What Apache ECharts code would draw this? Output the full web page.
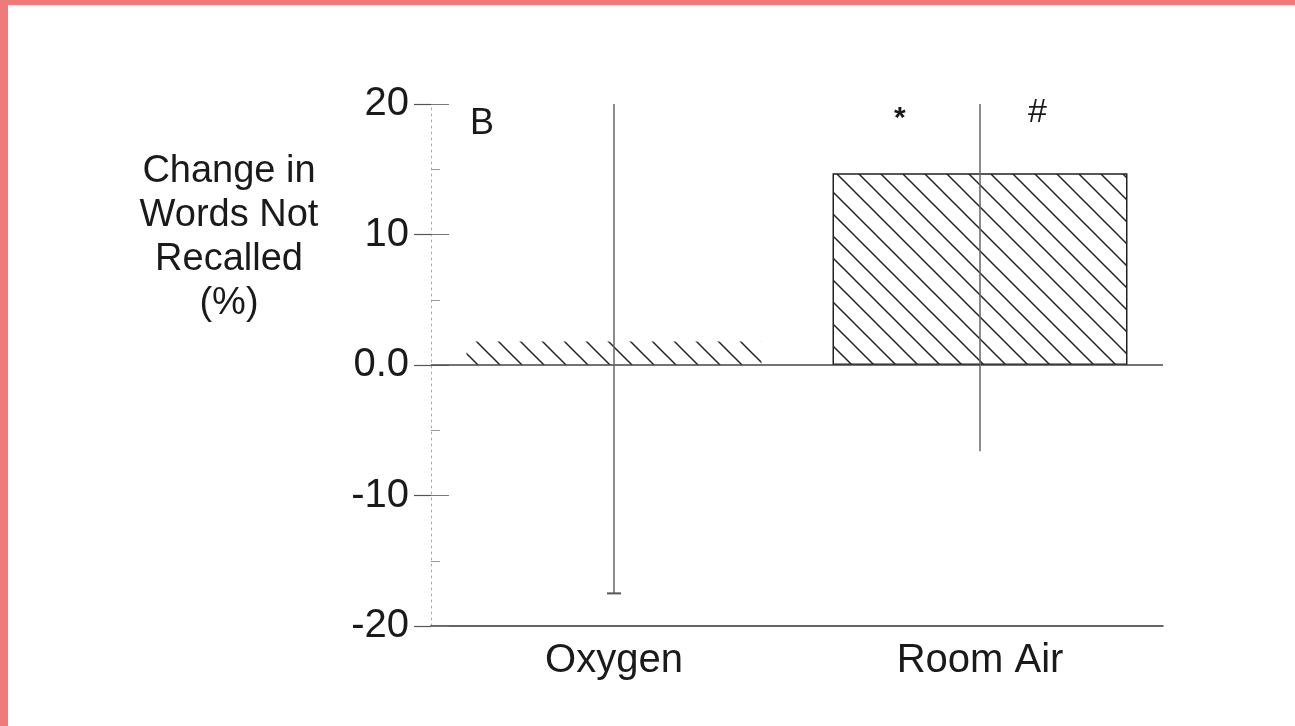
<!DOCTYPE html>
<html><head><meta charset="utf-8">
<script src="https://cdn.jsdelivr.net/npm/echarts@6/dist/echarts.min.js"></script>
<style>
html,body{margin:0;padding:0;background:#fff;}
#wrap{position:absolute;left:0;top:0;width:1295px;height:726px;background:#ee7a7c;}
#chart{position:absolute;left:8px;top:5px;width:1287px;height:721px;background:#fff;}
</style></head>
<body><div id="wrap"><div id="chart"></div></div>
<script>
// ---- data ----
var categories = ['Oxygen', 'Room Air'];
var meanValues = [1.8, 14.7];
var errLow = [-17.5, -6.6];
var errHigh = [20, 20];
var yTicks = [-20, -10, 0, 10, 20];
var yAxisTitle = 'Change in\nWords Not\nRecalled\n(%)';
var panelLabel = 'B';
var sigMarks = ['*', '#'];

// ---- hatch pattern ----
function hatch(step) {
  var c = document.createElement('canvas');
  c.width = step; c.height = step;
  var g = c.getContext('2d');
  g.strokeStyle = '#222';
  g.lineWidth = 1.5;
  for (var k = -1; k <= 1; k++) {
    g.beginPath();
    g.moveTo(k * step - 1, -1);
    g.lineTo(k * step + step + 1, step + 1);
    g.stroke();
  }
  return c;
}
var pat = { image: hatch(22), repeat: 'repeat' };

var chart = echarts.init(document.getElementById('chart'));
var fontFam = '"Liberation Sans", Arial, sans-serif';
var OX = 8, OY = 5;

chart.setOption({
  animation: false,
  backgroundColor: '#fff',
  grid: { left: 431 - OX, right: 132, top: 104 - OY, bottom: 100 },
  xAxis: {
    type: 'category',
    data: categories,
    axisLine: { show: true, onZero: false, lineStyle: { color: '#333', width: 1.5 } },
    axisTick: { show: false },
    axisLabel: { color: '#1a1a1a', fontSize: 40, fontFamily: fontFam, margin: 15 }
  },
  yAxis: [{
    type: 'value', min: -20, max: 20, interval: 10,
    axisLine: { show: true, lineStyle: { color: '#aaa', width: 1, type: [2, 4] } },
    axisTick: { show: true, length: 17, lineStyle: { color: '#555', width: 1.2 } },
    splitLine: { show: false },
    axisLabel: {
      color: '#1a1a1a', fontSize: 40, fontFamily: fontFam, margin: 22,
      formatter: function (v) { return yTicks.indexOf(v) >= 0 ? (v === 0 ? '0.0' : String(v)) : ''; }
    }
  }, {
    type: 'value', min: -20, max: 20, interval: 10, position: 'left',
    axisLine: { show: false },
    axisTick: { show: true, inside: true, length: 18, lineStyle: { color: '#777', width: 1 } },
    minorTick: { show: true, splitNumber: 2, length: 9, lineStyle: { color: '#999', width: 1 } },
    splitLine: { show: false },
    axisLabel: { show: false }
  }],
  series: [{
    type: 'bar',
    data: meanValues.map(function (v, i) {
      return {
        value: v,
        itemStyle: i === 0
          ? { color: pat, borderWidth: 0 }
          : { color: pat, borderColor: '#222', borderWidth: 1.5 }
      };
    }),
    barWidth: '80.6%',
    markLine: {
      silent: true, symbol: 'none', label: { show: false },
      lineStyle: { color: '#444', width: 1.5, type: 'solid' },
      data: [{ yAxis: 0 }]
    }
  }, {
    type: 'custom',
    data: categories.map(function (c, i) { return [i, errLow[i], errHigh[i]]; }),
    renderItem: function (params, api) {
      var lo = api.coord([api.value(0), api.value(1)]);
      var hi = api.coord([api.value(0), api.value(2)]);
      var ch = [{
        type: 'line',
        shape: { x1: lo[0], y1: lo[1], x2: hi[0], y2: hi[1] },
        style: { stroke: '#666', lineWidth: 1.5 }
      }];
      if (params.dataIndex === 0) {
        ch.push({
          type: 'line',
          shape: { x1: lo[0] - 7, y1: lo[1], x2: lo[0] + 7, y2: lo[1] },
          style: { stroke: '#555', lineWidth: 2 }
        });
      }
      return { type: 'group', children: ch };
    },
    z: 5
  }],
  graphic: [{
    type: 'text', x: 229 - OX, y: 150 - OY,
    style: { text: yAxisTitle, font: '38px ' + fontFam, fill: '#1a1a1a', align: 'center', textAlign: 'center', verticalAlign: 'top', lineHeight: 44 }
  }, {
    type: 'text', x: 470 - OX, y: 106 - OY,
    style: { text: panelLabel, font: '36px ' + fontFam, fill: '#1a1a1a' }
  }, {
    type: 'text', x: 894 - OX, y: 104 - OY,
    style: { text: sigMarks[0], font: 'bold 30px ' + fontFam, fill: '#1a1a1a' }
  }, {
    type: 'text', x: 1028 - OX, y: 96 - OY,
    style: { text: sigMarks[1], font: '34px ' + fontFam, fill: '#1a1a1a' }
  }]
});
</script></body></html>
